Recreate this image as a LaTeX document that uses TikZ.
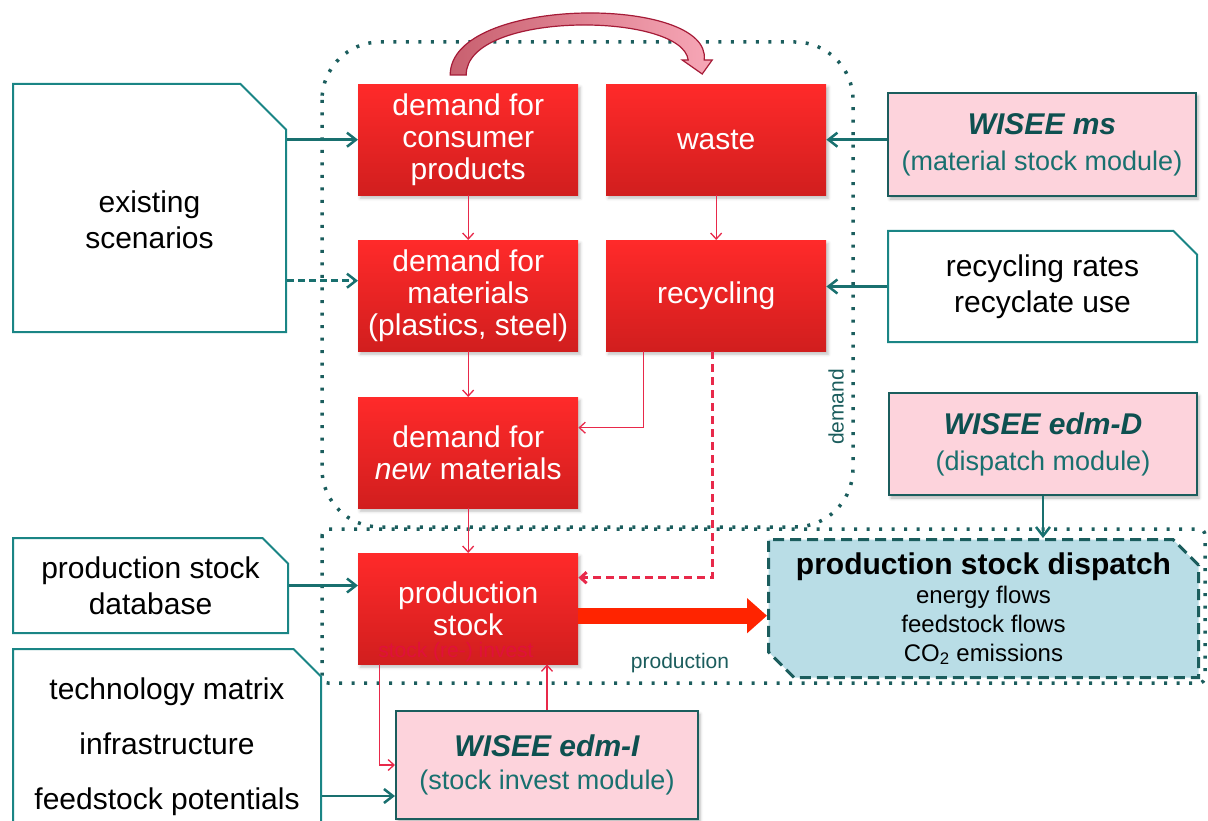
\documentclass[tikz,border=0pt]{standalone}
\usepackage{fontspec}
\setmainfont{Liberation Sans}
\usetikzlibrary{arrows.meta,calc,shapes.misc,shadows.blur}
\definecolor{wsRed}{HTML}{FF2A2A}
\definecolor{wsRedDark}{HTML}{D11E1E}
\definecolor{wsLine}{HTML}{E8294A}
\definecolor{wsTeal}{HTML}{1A8585}
\definecolor{wsArrow}{HTML}{19706F}
\definecolor{wsTealDark}{HTML}{1B5D5D}
\definecolor{wsInk}{HTML}{0E5050}
\definecolor{wsPink}{HTML}{FDD3DC}
\definecolor{wsBlue}{HTML}{B9DDE6}
\definecolor{wsArcL}{HTML}{C8606F}
\definecolor{wsArcR}{HTML}{F7A7B7}
\definecolor{wsArcEdge}{HTML}{A51B37}
\definecolor{wsFlow}{HTML}{FF2400}
\definecolor{wsInvest}{HTML}{E0103A}
\newcommand{\wsTitle}[1]{{\fontsize{30}{36}\selectfont\bfseries\itshape\color{wsInk}#1}}

\begin{document}
\begin{tikzpicture}[x=1pt,y=-1pt,font=\fontsize{30}{32}\selectfont,
        redbox/.style={anchor=north west,minimum width=220pt,minimum height=111pt,inner sep=2pt,align=center,
          text=white,top color=wsRed,bottom color=wsRedDark,
          blur shadow={shadow xshift=2pt,shadow yshift=-3pt,shadow blur radius=3pt,shadow opacity=25}},
        docbox/.style={anchor=north west,chamfered rectangle,chamfered rectangle corners=north east,
          draw=wsTeal,line width=2pt,fill=white,align=center,inner sep=2pt,font=\fontsize{30}{36}\selectfont},
        modbox/.style={anchor=north west,draw=wsTealDark,line width=2pt,fill=wsPink,align=center,inner sep=2pt,
          text=wsArrow,font=\fontsize{27}{36}\selectfont,
          blur shadow={shadow xshift=2pt,shadow yshift=-3pt,shadow blur radius=3pt,shadow opacity=30}},
        dispbox/.style={anchor=north west,chamfered rectangle,chamfered rectangle corners={north east,south west},
          chamfered rectangle xsep=22pt,draw=wsTealDark,line width=3pt,dash pattern=on 11pt off 6pt,
          fill=wsBlue,align=center,inner sep=2pt,font=\fontsize{24}{29}\selectfont},
        zone/.style={draw=wsTealDark,line width=3.5pt,dash pattern=on 3pt off 9.5pt},
        zonelabel/.style={text=wsTealDark,font=\fontsize{21}{21}\selectfont,inner sep=0pt},
        tealflow/.style={draw=wsArrow,line width=2.5pt,-{Straight Barb[length=9pt,width=14pt]}},
        redflow/.style={draw=wsLine,line width=1.3pt,-{Straight Barb[length=6pt,width=11pt]}}]
  \clip (0,0) rectangle (1208,821);
  \draw[zone,rounded corners=58pt] (322,42) rectangle (853,527);
  \draw[zone,rounded corners=6pt] (322,529) rectangle (1205,683);

  \node[redbox] (cons) at (358,84) {demand for\\consumer\\products};
  \node[redbox] (waste) at (606,84) {waste};
  \node[redbox] (mat) at (358,240) {demand for\\materials\\(plastics, steel)};
  \node[redbox] (recyc) at (606,240) {recycling};
  \node[redbox] (newmat) at (358,397) {demand for\\\textit{new} materials};
  \node[redbox] (prod) at (358,553) {production\\stock};
  \node[text=wsInvest,font=\fontsize{21}{21}\selectfont,inner sep=0pt] (investlbl) at (456,652) {stock (re-) invest};

  \node[docbox,minimum width=273pt,minimum height=248pt,chamfered rectangle xsep=42pt] (scen) at (12,83) {existing\rule{0pt}{46pt}\\scenarios};
  \node[docbox,minimum width=275pt,minimum height=95pt,chamfered rectangle xsep=22pt] (stockdb) at (12,537) {production stock\\database};
  \node[docbox,minimum width=308pt,minimum height=196pt,chamfered rectangle xsep=24pt,inner xsep=-10pt,font=\fontsize{30}{55}\selectfont] (techno) at (12,648) {technology matrix\\infrastructure\\feedstock potentials};
  \node[docbox,minimum width=309pt,minimum height=111pt,chamfered rectangle xsep=20pt] (rates) at (887,230) {recycling rates\\recyclate use};

  \node[modbox,minimum width=308pt,minimum height=103pt] (ms) at (887,92) {\wsTitle{WISEE ms}\\(material stock module)};
  \node[modbox,minimum width=308pt,minimum height=102pt] (edmD) at (888,392) {\wsTitle{WISEE edm-D}\\(dispatch module)};
  \node[modbox,minimum width=302pt,minimum height=108pt,font=\fontsize{27}{33}\selectfont] (edmI) at (395,710) {\wsTitle{WISEE edm-I}\\(stock invest module)};
  \node[dispbox,minimum width=430pt,minimum height=138pt] (disp) at (767,538)
    {{\fontsize{30}{32}\selectfont\bfseries production stock dispatch}\\energy flows\\feedstock flows\\CO\textsubscript{2} emissions};

  \node[zonelabel,rotate=90] (demandlbl) at (836,407) {demand};
  \node[zonelabel] (prodlbl) at (680,663) {production};

  \coordinate (arcA) at ($(cons.north)+(-10,-9)$);
  \coordinate (arcB) at ($(waste.north)+(-20,-24)$);
  \draw[wsArcEdge,line width=1.2pt,left color=wsArcL,right color=wsArcR]
    ($(arcA)+(-8,0)$) .. controls ($(arcA)+(-8,-80)$) and ($(arcB)+(16,-65)$) .. ($(arcB)+(8,0)$)
    -- ($(arcB)+(16,0)$) -- ($(arcB)+(6,14)$) -- ($(arcB)+(-14,0)$) -- ($(arcB)+(-8,0)$)
    .. controls ($(arcB)+(-14,-48)$) and ($(arcA)+(8,-65)$) .. ($(arcA)+(8,0)$) -- cycle;

  \draw[redflow] (cons) -- (mat);
  \draw[redflow] (waste) -- (recyc);
  \draw[redflow] (mat) -- (newmat);
  \draw[redflow] (newmat) -- (prod);
  \draw[redflow] ([xshift=-73pt]recyc.south) |- ([yshift=25pt]newmat.east);
  \draw[redflow,line width=3pt,dash pattern=on 8pt off 5pt] ([xshift=-4pt]recyc.south) |- ([yshift=31pt]prod.east);
  \draw[redflow] ([xshift=-89pt]prod.south) |- (edmI.west);
  \draw[redflow] (edmI.north) -- (edmI.north |- prod.south);
  \draw[draw=wsFlow,line width=16pt,-{Triangle[length=20pt,width=34pt]}] ([yshift=-7pt]prod.east) -- ([yshift=-7pt]prod.east -| disp.west);

  \draw[tealflow] (scen.east |- cons.west) -- (cons.west);
  \draw[tealflow,dash pattern=on 7pt off 4pt] ([yshift=15pt]scen.east |- mat.west) -- ([yshift=15pt]mat.west);
  \draw[tealflow] (stockdb.east) -- (stockdb.east -| prod.west);
  \draw[tealflow] ([yshift=-31pt]techno.east |- edmI.west) -- ([yshift=-31pt]edmI.west);
  \draw[tealflow] (ms.west |- waste.east) -- (waste.east);
  \draw[tealflow] (rates.west) -- (rates.west -| recyc.east);
  \draw[tealflow] (edmD.south) -- (edmD.south |- disp.north);
\end{tikzpicture}
\end{document}
